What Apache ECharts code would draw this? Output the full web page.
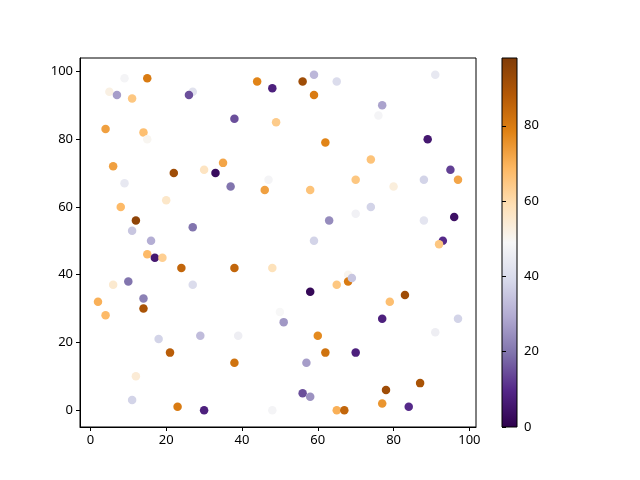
<!DOCTYPE html>
<html>
<head>
<meta charset="utf-8">
<script src="https://cdn.jsdelivr.net/npm/echarts@6/dist/echarts.min.js"></script>
<style>html,body{margin:0;padding:0;background:#fff;}#c{width:640px;height:480px;}</style>
</head>
<body>
<div id="c"></div>
<script>
// x, y, colour value
const xs = [15,9,5,7,11,27,26,44,48,38,49,4,14,15,6,22,30,35,33,37,47,46,9,8,20,12,11,27,16,56,59,65,59,91,77,76,62,89,74,95,97,70,88,80,58,74,70,63,88,96,59,93,92,15,17,19,24,38,48,6,10,27,2,14,14,4,50,18,29,39,21,38,12,11,23,30,48,68,68,69,65,58,83,79,51,77,97,91,60,62,70,57,56,58,78,87,77,65,67,84];
const ys = [98,98,94,93,92,94,93,97,95,86,85,83,82,80,72,70,71,73,70,66,68,65,67,60,62,56,53,54,50,97,99,97,93,99,90,87,79,80,74,71,68,68,68,66,65,60,58,56,56,57,50,50,49,46,45,45,42,42,42,37,38,37,32,33,30,28,29,21,22,22,17,14,10,3,1,0,0,40,38,39,37,35,34,32,26,27,27,23,22,17,17,14,5,4,6,8,2,0,0,1];
const cs = [80,48,52,27,65,42,15,78,8,15,64,73,67,50,73,92,57,72,3,20,48,73,44,68,56,95,35,20,30,92,32,40,80,44,28,48,78,6,66,13,72,65,38,53,66,38,47,24,43,4,38,10,65,68,6,63,85,85,58,55,20,40,70,22,90,68,49,38,33,46,87,82,54,38,80,8,48,50,80,35,65,2,92,67,26,8,38,46,77,82,8,27,15,25,92,90,75,70,85,10];
const xTicks = [0,20,40,60,80,100];
const yTicks = [0,20,40,60,80,100];
const cTicks = [0,20,40,60,80];
const cMin = 0, cMax = 98;

const puor_r = ['#2d004b','#542788','#8073ac','#b2abd2','#d8daeb','#f7f7f7','#fee0b6','#fdb863','#e08214','#b35806','#7f3b08'];
const data = xs.map((x,i)=>[x, ys[i], cs[i]]);
const font = 'Noto Sans';
const lbl = {color:'#000', fontFamily:font, fontSize:13};

const chart = echarts.init(document.getElementById('c'), null, {renderer:'canvas'});
const grad = new echarts.graphic.LinearGradient(0,1,0,0, puor_r.map((c,i)=>({offset:i/(puor_r.length-1), color:c})));
chart.setOption({
  animation:false,
  backgroundColor:'#fff',
  grid:[
    {left:80, right:164, top:58, bottom:53, show:true, borderColor:'#000', borderWidth:1, backgroundColor:'transparent'},
    {left:502, width:15, top:58, bottom:53, show:true, borderColor:'#000', borderWidth:1, backgroundColor:grad}
  ],
  xAxis:[
    {type:'value', gridIndex:0, min:-2.75, max:101.75, splitLine:{show:false},
     axisLine:{show:true, onZero:false, lineStyle:{color:'#000'}},
     axisTick:{show:true, length:4, customValues:xTicks, lineStyle:{color:'#000'}},
     axisLabel:Object.assign({customValues:xTicks, margin:7}, lbl)},
    {type:'value', gridIndex:1, min:0, max:1, show:false}
  ],
  yAxis:[
    {type:'value', gridIndex:0, min:-4.95, max:103.95, splitLine:{show:false},
     axisLine:{show:true, onZero:false, lineStyle:{color:'#000'}},
     axisTick:{show:true, length:4, customValues:yTicks, lineStyle:{color:'#000'}},
     axisLabel:Object.assign({customValues:yTicks, margin:7}, lbl)},
    {type:'value', gridIndex:1, position:'right', min:cMin, max:cMax, splitLine:{show:false},
     axisLine:{show:false},
     axisTick:{show:true, length:4, customValues:cTicks, lineStyle:{color:'#000'}},
     axisLabel:Object.assign({customValues:cTicks, margin:7}, lbl)}
  ],
  visualMap:{show:false, type:'continuous', min:cMin, max:cMax, dimension:2, seriesIndex:0, inRange:{color:puor_r}},
  series:[
    {type:'scatter', xAxisIndex:0, yAxisIndex:0, symbolSize:8.5, data:data, itemStyle:{opacity:1}}
  ]
});
</script>
</body>
</html>
